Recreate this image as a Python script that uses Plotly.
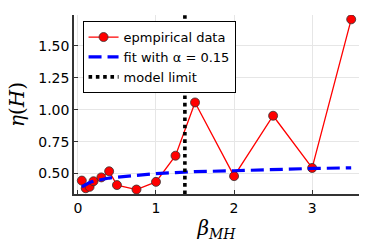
import plotly.graph_objects as go

beta = [0.05, 0.1, 0.15, 0.2, 0.3, 0.4, 0.5, 0.75, 1.0, 1.25, 1.5, 2.0, 2.5, 3.0, 3.5]
eta_emp = [0.445, 0.385, 0.396, 0.44, 0.47, 0.518, 0.41, 0.375, 0.435, 0.64, 1.057, 0.48, 0.953, 0.544, 1.708]
eta_fit = [0.395, 0.415, 0.43, 0.44, 0.455, 0.465, 0.472, 0.487, 0.50, 0.508, 0.515, 0.522, 0.532, 0.54, 0.545]
model_limit = 1.37
x_range = [-0.05, 3.6]
y_range = [0.34, 1.742]
y_ticks = [0.5, 0.75, 1.0, 1.25, 1.5]
x_ticks = [0, 1, 2, 3]

fig = go.Figure()
fig.add_trace(go.Scatter(
    x=beta, y=eta_emp, mode="lines+markers", name="epmpirical data",
    line=dict(color="#ff0000", width=1.3),
    marker=dict(color="#ff0000", size=9, line=dict(color="#333333", width=0.8)),
))
fig.add_trace(go.Scatter(
    x=beta, y=eta_fit, mode="lines", name="fit with α = 0.15",
    line=dict(color="#0000ff", width=3.2, dash="13px,6px"),
))
fig.add_trace(go.Scatter(
    x=[model_limit, model_limit], y=y_range, mode="lines", name="model limit",
    line=dict(color="black", width=3.6, dash="3.6px,3.7px"),
))

font = "DejaVu Sans, Arial, sans-serif"
fig.update_layout(
    width=374, height=249,
    margin=dict(l=74, r=15, t=15, b=55),
    plot_bgcolor="white", paper_bgcolor="white",
    font=dict(family=font, size=14, color="black"),
    showlegend=True,
    legend=dict(x=0.03, y=0.966, xanchor="left", yanchor="top",
                bgcolor="white", bordercolor="black", borderwidth=1,
                font=dict(size=13), tracegroupgap=0, itemwidth=30,
                traceorder="normal"),
    xaxis=dict(range=x_range, tickvals=x_ticks, ticks="inside", ticklen=4,
               tickcolor="#333333", showline=True, linecolor="#333333", linewidth=1.5,
               showgrid=True, gridcolor="#e6e6e6", gridwidth=1, zeroline=False,
               automargin=False,
               title=dict(text="<i>β<sub>MH</sub></i>", font=dict(family="DejaVu Serif, serif", size=20), standoff=6)),
    yaxis=dict(range=y_range, tickvals=y_ticks, tickformat=".2f", ticks="inside", ticklen=4,
               tickcolor="#333333", showline=True, linecolor="#333333", linewidth=1.5,
               showgrid=True, gridcolor="#e6e6e6", gridwidth=1, zeroline=False,
               automargin=False,
               title=dict(text="<i>η</i>(<i>H</i>)", font=dict(family="DejaVu Serif, serif", size=20), standoff=8)),
)
fig.write_html("out.html", config={"displayModeBar": False},
               post_script="document.body.style.margin='0';")
